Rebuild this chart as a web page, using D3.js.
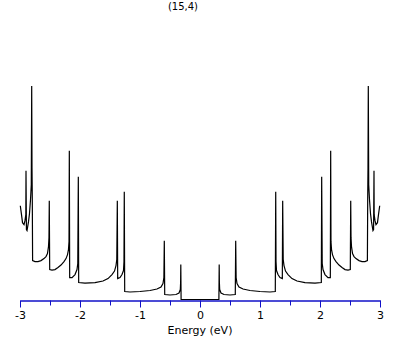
<!DOCTYPE html>
<meta charset="utf-8">
<style>
body { margin: 0; background: #fff; }
text { font-family: "DejaVu Sans", sans-serif; }
.dos { fill: none; stroke: #000; stroke-width: 1.2px; stroke-linejoin: miter; }
.axis path, .axis line { stroke: #1010c8; }
.axis text { fill: #000; font-size: 11px; }
</style>
<svg width="409" height="345"></svg>
<script src="https://cdn.jsdelivr.net/npm/d3@7"></script>
<script>

var title = "(15,4)",
    xLabel = "Energy (eV)";

// energies (eV), left to right
var energy = [
  -2.995, -2.975, -2.958, -2.933, -2.917, -2.903, -2.900, -2.893, -2.883, -2.858,
  -2.842, -2.825, -2.812, -2.805, -2.800, -2.795, -2.790, -2.750, -2.700, -2.650,
  -2.600, -2.567, -2.542, -2.525, -2.517, -2.512, -2.505, -2.467, -2.417, -2.367,
  -2.317, -2.267, -2.233, -2.208, -2.192, -2.183, -2.178, -2.172, -2.133, -2.083,
  -2.050, -2.037, -2.028, -2.022, -1.917, -1.750, -1.617, -1.533, -1.467, -1.425,
  -1.400, -1.387, -1.378, -1.372, -1.333, -1.300, -1.275, -1.267, -1.262, -1.255,
  -1.167, -1.000, -0.833, -0.717, -0.650, -0.617, -0.602, -0.595, -0.588, -0.500,
  -0.400, -0.350, -0.328, -0.323, -0.320, -0.315,  0.000,
   0.315,  0.320,  0.323,  0.328,  0.350,  0.400,  0.500,  0.588,  0.595,  0.602,
   0.617,  0.650,  0.717,  0.833,  1.000,  1.167,  1.255,  1.262,  1.267,  1.275,
   1.300,  1.333,  1.372,  1.378,  1.387,  1.400,  1.425,  1.467,  1.533,  1.617,
   1.750,  1.917,  2.022,  2.028,  2.037,  2.050,  2.083,  2.133,  2.172,  2.178,
   2.183,  2.192,  2.208,  2.233,  2.267,  2.317,  2.367,  2.417,  2.467,  2.505,
   2.512,  2.517,  2.525,  2.542,  2.567,  2.600,  2.650,  2.700,  2.750,  2.790,
   2.795,  2.800,  2.805,  2.812,  2.825,  2.842,  2.858,  2.883,  2.893,  2.900,
   2.903,  2.917,  2.933,  2.958,  2.975,  2.995
];

// density of states (arb. units)
var dos = [
   9.40,  8.50,  7.70,  7.50,  7.90,  8.50, 12.90,  7.00,  6.90,  7.80,
   8.60, 10.00, 11.50, 21.40, 13.20, 10.00,  3.90,  3.80,  3.80,  3.90,
   4.10,  4.30,  4.60,  5.30,  6.20,  9.90,  3.00,  2.95,  3.00,  3.20,
   3.45,  3.80,  4.10,  4.50,  5.00,  5.80, 14.90,  2.20,  2.20,  2.50,
   3.00,  3.60, 12.30,  1.70,  1.65,  1.70,  1.85,  2.10,  2.50,  2.85,
   3.40,  4.00,  9.90,  2.10,  2.20,  2.50,  2.90,  3.80, 10.80,  0.80,
   0.75,  0.80,  0.90,  1.05,  1.25,  1.60,  2.20,  5.90,  0.50,  0.45,
   0.50,  0.65,  1.00,  1.70,  3.50,  0.00,  0.00,
   0.00,  3.50,  1.70,  1.00,  0.65,  0.50,  0.45,  0.50,  5.90,  2.20,
   1.60,  1.25,  1.05,  0.90,  0.80,  0.75,  0.80, 10.80,  3.80,  2.90,
   2.50,  2.20,  2.10,  9.90,  4.00,  3.40,  2.85,  2.50,  2.10,  1.85,
   1.70,  1.65,  1.70, 12.30,  3.60,  3.00,  2.50,  2.20,  2.20, 14.90,
   5.80,  5.00,  4.50,  4.10,  3.80,  3.45,  3.20,  3.00,  2.95,  3.00,
   9.90,  6.20,  5.30,  4.60,  4.30,  4.10,  3.90,  3.80,  3.80,  3.90,
  10.00, 13.20, 21.40, 11.50, 10.00,  8.60,  7.80,  6.90,  7.00, 12.90,
   8.50,  7.90,  7.50,  7.70,  8.50,  9.40
];

var majorTicks = [-3, -2, -1, 0, 1, 2, 3],
    minorTicks = [-2.5, -1.5, -0.5, 0.5, 1.5, 2.5];

var svg = d3.select("svg");

var x = d3.scaleLinear().domain([-3, 3]).range([20, 380]);
var y = d3.scaleLinear().domain([0, 21.4]).range([299.5, 86]);

var line = d3.line()
    .x(function(d, i) { return x(energy[i]); })
    .y(function(d) { return y(d); });

svg.append("path")
    .datum(dos)
    .attr("class", "dos")
    .attr("d", line);

svg.append("g")
    .attr("class", "axis")
    .attr("transform", "translate(0,300.5)")
    .call(d3.axisBottom(x).tickValues(minorTicks).tickSize(5).tickSizeOuter(0).tickFormat(""));

svg.append("g")
    .attr("class", "axis")
    .attr("transform", "translate(0,300.5)")
    .call(d3.axisBottom(x).tickValues(majorTicks).tickSize(7).tickSizeOuter(0)
      .tickPadding(4).tickFormat(function(d) { return String(d); }));

svg.append("text")
    .attr("x", 200)
    .attr("y", 334)
    .attr("text-anchor", "middle")
    .style("font-size", "11px")
    .text(xLabel);

svg.append("text")
    .attr("x", 183)
    .attr("y", 10)
    .attr("text-anchor", "middle")
    .style("font-size", "10px")
    .text(title);

</script>
